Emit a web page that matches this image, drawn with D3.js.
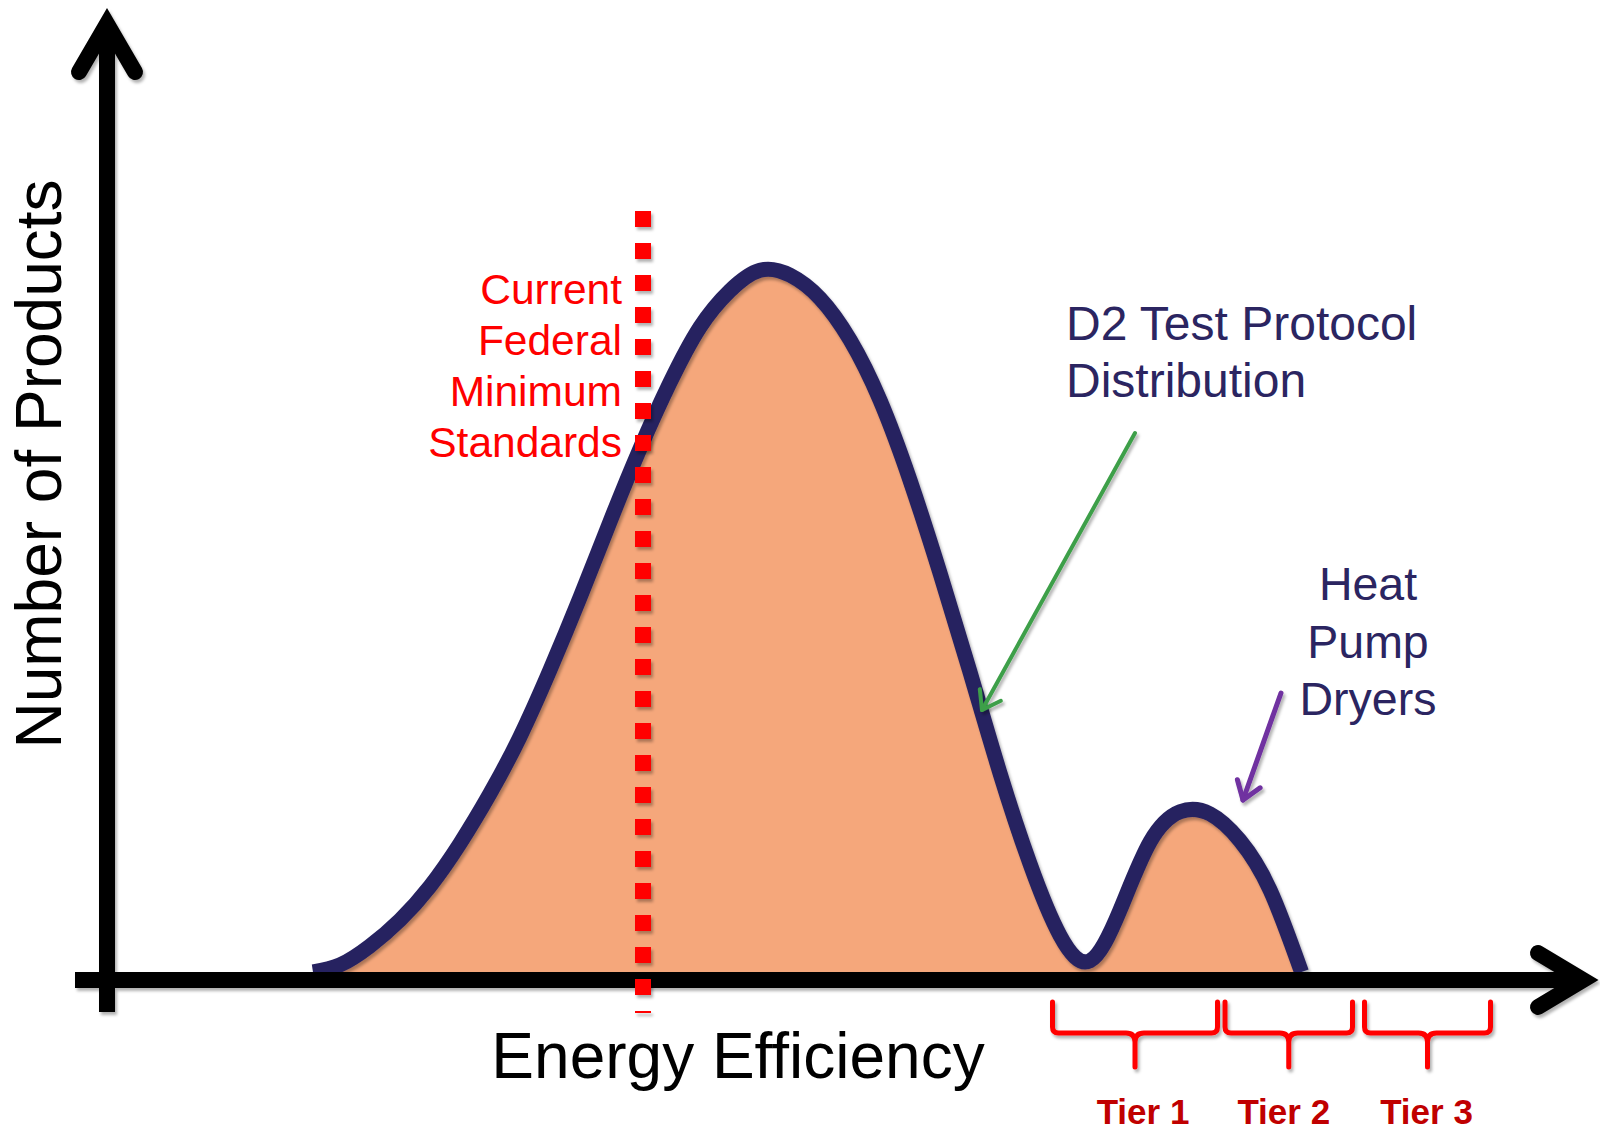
<!DOCTYPE html>
<html>
<head>
<meta charset="utf-8">
<script src="https://cdn.jsdelivr.net/npm/d3@7"></script>
<style>
  html, body { margin: 0; padding: 0; background: #ffffff; }
  svg { display: block; }
  text { font-family: "Liberation Sans", Arial, Helvetica, sans-serif; }
</style>
</head>
<body>
<svg id="chart" width="1600" height="1130"></svg>
<script>
// Product distribution: energy efficiency (x) vs. number of products (y)
const efficiency = [14.2, 16, 18, 20, 22, 24, 26, 28, 30, 32, 34, 36, 38, 40, 42, 44, 46, 48, 50,
                    52, 54, 56, 58, 60, 62, 64, 66, 68, 70, 72, 74, 76, 78, 80.1];
const products   = [0, 1.0, 3.7, 7.4, 12.2, 18.3, 25.4, 33.5, 43.0, 53.3, 64.1, 74.5, 83.9, 91.8,
                    97.0, 99.9, 99.2, 95.9, 90.0, 81.4, 70.0, 56.8, 42.7, 28.3, 15.4, 5.2, 1.6, 8.8,
                    18.5, 22.8, 22.5, 18.7, 11.7, 0];

// Current federal minimum standard (efficiency level)
const federalMinimum = 36.2;

// Efficiency tiers
const tierNames = ["Tier 1", "Tier 2", "Tier 3"];
const tierStart = [63.5, 75.0, 84.3];
const tierEnd   = [74.5, 83.5, 92.7];

// Text blocks
const federalLines = ["Current", "Federal", "Minimum", "Standards"];
const d2Lines = ["D2 Test Protocol", "Distribution"];
const heatPumpLines = ["Heat", "Pump", "Dryers"];

const svg = d3.select("#chart");

const x = d3.scaleLinear().domain([0, 100]).range([100, 1600]);
const y = d3.scaleLinear().domain([0, 100]).range([972, 269.5]);

const originX = 107;
const axisY = y(0) + 8;

// soft drop shadow used by the lines (user-space region so thin lines keep it)
const defs = svg.append("defs");
const f = defs.append("filter").attr("id", "shadow")
  .attr("filterUnits", "userSpaceOnUse")
  .attr("x", 0).attr("y", 0).attr("width", 1600).attr("height", 1130);
f.append("feDropShadow").attr("dx", 2).attr("dy", 3).attr("stdDeviation", 1.6)
  .attr("flood-color", "#000").attr("flood-opacity", 0.3);

const pts = efficiency.map((e, i) => ({ e, p: products[i] }));
const smooth = d3.curveNatural;

// filled distribution
svg.append("path")
  .datum(pts)
  .attr("d", d3.area().x(d => x(d.e)).y0(y(0)).y1(d => y(d.p)).curve(smooth))
  .attr("fill", "#F5A77B");

// distribution outline
svg.append("path")
  .datum(pts)
  .attr("d", d3.line().x(d => x(d.e)).y(d => y(d.p)).curve(smooth))
  .attr("fill", "none")
  .attr("stroke", "#272261")
  .attr("stroke-width", 15)
  .attr("stroke-linejoin", "round")
  .attr("filter", "url(#shadow)");

// axes with arrowheads
const axes = svg.append("g").attr("filter", "url(#shadow)")
  .attr("stroke", "#000").attr("fill", "none").attr("stroke-width", 16);

axes.append("line")
  .attr("x1", originX).attr("y1", 1012)
  .attr("x2", originX).attr("y2", 26);
axes.append("path")
  .attr("d", `M${originX - 28},72 L${originX},24 L${originX + 28},72`)
  .attr("stroke-linejoin", "miter").attr("stroke-miterlimit", 6)
  .attr("stroke-linecap", "round");

axes.append("line")
  .attr("x1", 75).attr("y1", axisY)
  .attr("x2", 1578).attr("y2", axisY);
axes.append("path")
  .attr("d", `M1538,${axisY - 27} L1583,${axisY} L1538,${axisY + 27}`)
  .attr("stroke-linejoin", "miter").attr("stroke-miterlimit", 6)
  .attr("stroke-linecap", "round");

// federal minimum standard guide
svg.append("line")
  .attr("x1", x(federalMinimum)).attr("x2", x(federalMinimum))
  .attr("y1", 211).attr("y2", 1013)
  .attr("stroke", "#FF0000")
  .attr("stroke-width", 16)
  .attr("stroke-dasharray", "16 16")
  .attr("filter", "url(#shadow)");

svg.append("text")
  .attr("x", 622).attr("y", 304)
  .attr("text-anchor", "end")
  .attr("font-size", 42.5)
  .attr("fill", "#FF0000")
  .selectAll("tspan").data(federalLines).join("tspan")
  .attr("x", 622).attr("dy", (d, i) => i === 0 ? 0 : 51)
  .text(d => d);

// axis titles
svg.append("text")
  .attr("transform", "translate(61,464) rotate(-90)")
  .attr("text-anchor", "middle")
  .attr("font-size", 64)
  .attr("fill", "#000")
  .text("Number of Products");

svg.append("text")
  .attr("x", 738).attr("y", 1078)
  .attr("text-anchor", "middle")
  .attr("font-size", 64)
  .attr("fill", "#000")
  .text("Energy Efficiency");

// callouts
svg.append("text")
  .attr("x", 1066).attr("y", 340)
  .attr("font-size", 48)
  .attr("fill", "#2B2561")
  .selectAll("tspan").data(d2Lines).join("tspan")
  .attr("x", 1066).attr("dy", (d, i) => i === 0 ? 0 : 57)
  .text(d => d);

svg.append("text")
  .attr("x", 1368).attr("y", 600)
  .attr("text-anchor", "middle")
  .attr("font-size", 46.5)
  .attr("fill", "#2B2561")
  .selectAll("tspan").data(heatPumpLines).join("tspan")
  .attr("x", 1368).attr("dy", (d, i) => i === 0 ? 0 : 57.5)
  .text(d => d);

function arrow(g, x1, y1, x2, y2, color, width, head) {
  const dx = x2 - x1, dy = y2 - y1, len = Math.hypot(dx, dy);
  const bx = -dx / len, by = -dy / len;
  const a = 35 * Math.PI / 180, c = Math.cos(a), s = Math.sin(a);
  const l = [x2 + head * (bx * c - by * s), y2 + head * (bx * s + by * c)];
  const r = [x2 + head * (bx * c + by * s), y2 + head * (-bx * s + by * c)];
  const grp = g.append("g").attr("stroke", color).attr("stroke-width", width)
    .attr("fill", "none").attr("stroke-linecap", "round").attr("stroke-linejoin", "round")
    .attr("filter", "url(#shadow)");
  grp.append("line").attr("x1", x1).attr("y1", y1).attr("x2", x2).attr("y2", y2);
  grp.append("path").attr("d", `M${l[0]},${l[1]} L${x2},${y2} L${r[0]},${r[1]}`);
}
arrow(svg, 1135, 433, 982, 710, "#3E9F48", 4, 21);
arrow(svg, 1281, 693, 1243, 800, "#7030A0", 5, 21);

// tier braces
const braceTop = 1002, braceBar = 1033, braceTip = 1067;
function bracePath(x0, x1) {
  const xm = (x0 + x1) / 2, r = 6, rc = 9;
  return `M${x0},${braceTop} L${x0},${braceBar - r} Q${x0},${braceBar} ${x0 + r},${braceBar}` +
         ` L${xm - rc},${braceBar} Q${xm},${braceBar} ${xm},${braceBar + rc} L${xm},${braceTip}` +
         ` M${xm},${braceBar + rc} Q${xm},${braceBar} ${xm + rc},${braceBar}` +
         ` L${x1 - r},${braceBar} Q${x1},${braceBar} ${x1},${braceBar - r} L${x1},${braceTop}`;
}
const labelShift = [8, -5, -1];
const tiers = tierNames.map((name, i) => ({ name, a: tierStart[i], b: tierEnd[i], dx: labelShift[i] }));
const tierG = svg.append("g");
tierG.selectAll("path").data(tiers).join("path")
  .attr("d", d => bracePath(x(d.a), x(d.b)))
  .attr("fill", "none")
  .attr("stroke", "#FF0000")
  .attr("stroke-width", 5)
  .attr("stroke-linecap", "round")
  .attr("stroke-linejoin", "round")
  .attr("filter", "url(#shadow)");
tierG.selectAll("text").data(tiers).join("text")
  .attr("x", d => x((d.a + d.b) / 2) + d.dx)
  .attr("y", 1124)
  .attr("text-anchor", "middle")
  .attr("font-size", 35)
  .attr("font-weight", "bold")
  .attr("fill", "#C00000")
  .text(d => d.name);
</script>
</body>
</html>
